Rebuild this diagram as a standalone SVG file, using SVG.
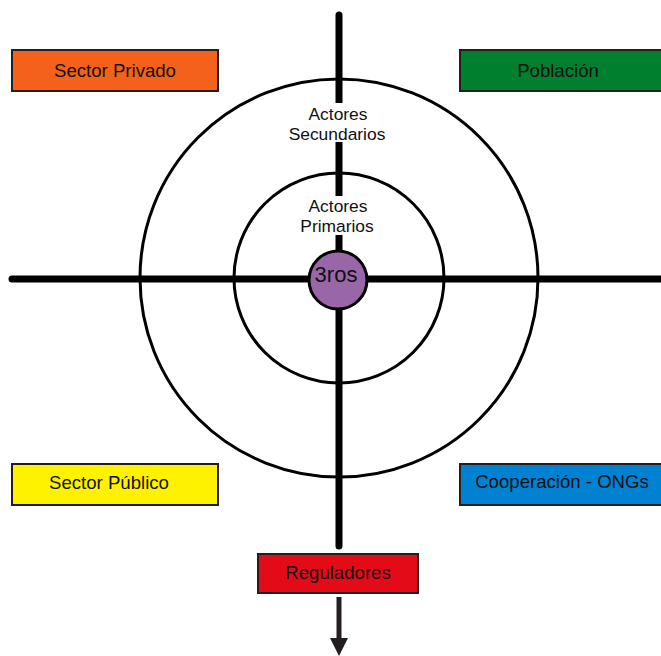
<svg xmlns="http://www.w3.org/2000/svg" width="661" height="656" viewBox="0 0 661 656">
<defs>
<style>
.box{stroke:#231f20;stroke-width:2}
.t{font-family:"Liberation Sans",Arial,sans-serif;font-size:18.6px;fill:#111;text-anchor:middle}
.t2{font-size:17.4px}
.ring{fill:none;stroke:#000;stroke-width:3}
.axis{stroke:#000;stroke-width:7;stroke-linecap:round;fill:none}
</style>
</defs>
<rect width="661" height="656" fill="#fff"/>
<g id="connectors">
<circle class="ring" cx="339" cy="278" r="199"/>
<circle class="ring" cx="339" cy="278" r="105"/>
<line class="axis" x1="339" y1="15" x2="339" y2="546"/>
<line class="axis" x1="12" y1="279" x2="670" y2="279"/>
<line x1="339" y1="597" x2="339" y2="640" stroke="#231f20" stroke-width="5"/>
<polygon points="330,638 348,638 339,656" fill="#231f20"/>
</g>
<g id="actores-secundarios">
<rect x="283" y="103" width="110" height="39" fill="#fff"/>
<text class="t t2" x="338" y="120">Actores</text>
<text class="t t2" x="337" y="139.6">Secundarios</text>
</g>
<g id="actores-primarios">
<rect x="295" y="196" width="86" height="39" fill="#fff"/>
<text class="t t2" x="338" y="212">Actores</text>
<text class="t t2" x="337" y="231.6">Primarios</text>
</g>
<g id="terceros">
<circle cx="338" cy="280" r="29" fill="#9966a8" stroke="#000" stroke-width="3"/>
<text class="t" x="336" y="282" style="font-size:22px">3ros</text>
</g>
<g id="sector-privado">
<rect class="box" x="12" y="50" width="206" height="41" fill="#f4611a"/>
<text class="t" x="115" y="77">Sector Privado</text>
</g>
<g id="poblacion">
<rect class="box" x="460" y="50" width="206" height="41" fill="#00802f"/>
<text class="t" x="558" y="77">Población</text>
</g>
<g id="sector-publico">
<rect class="box" x="12" y="464" width="206" height="41" fill="#fff200"/>
<text class="t" x="109" y="489">Sector Público</text>
</g>
<g id="cooperacion">
<rect class="box" x="460" y="464" width="206" height="41" fill="#0081d2"/>
<text class="t" x="562" y="488">Cooperación - ONGs</text>
</g>
<g id="reguladores">
<rect class="box" x="258" y="554" width="160" height="39" fill="#e20b17"/>
<text class="t" x="338" y="579">Reguladores</text>
</g>
</svg>
